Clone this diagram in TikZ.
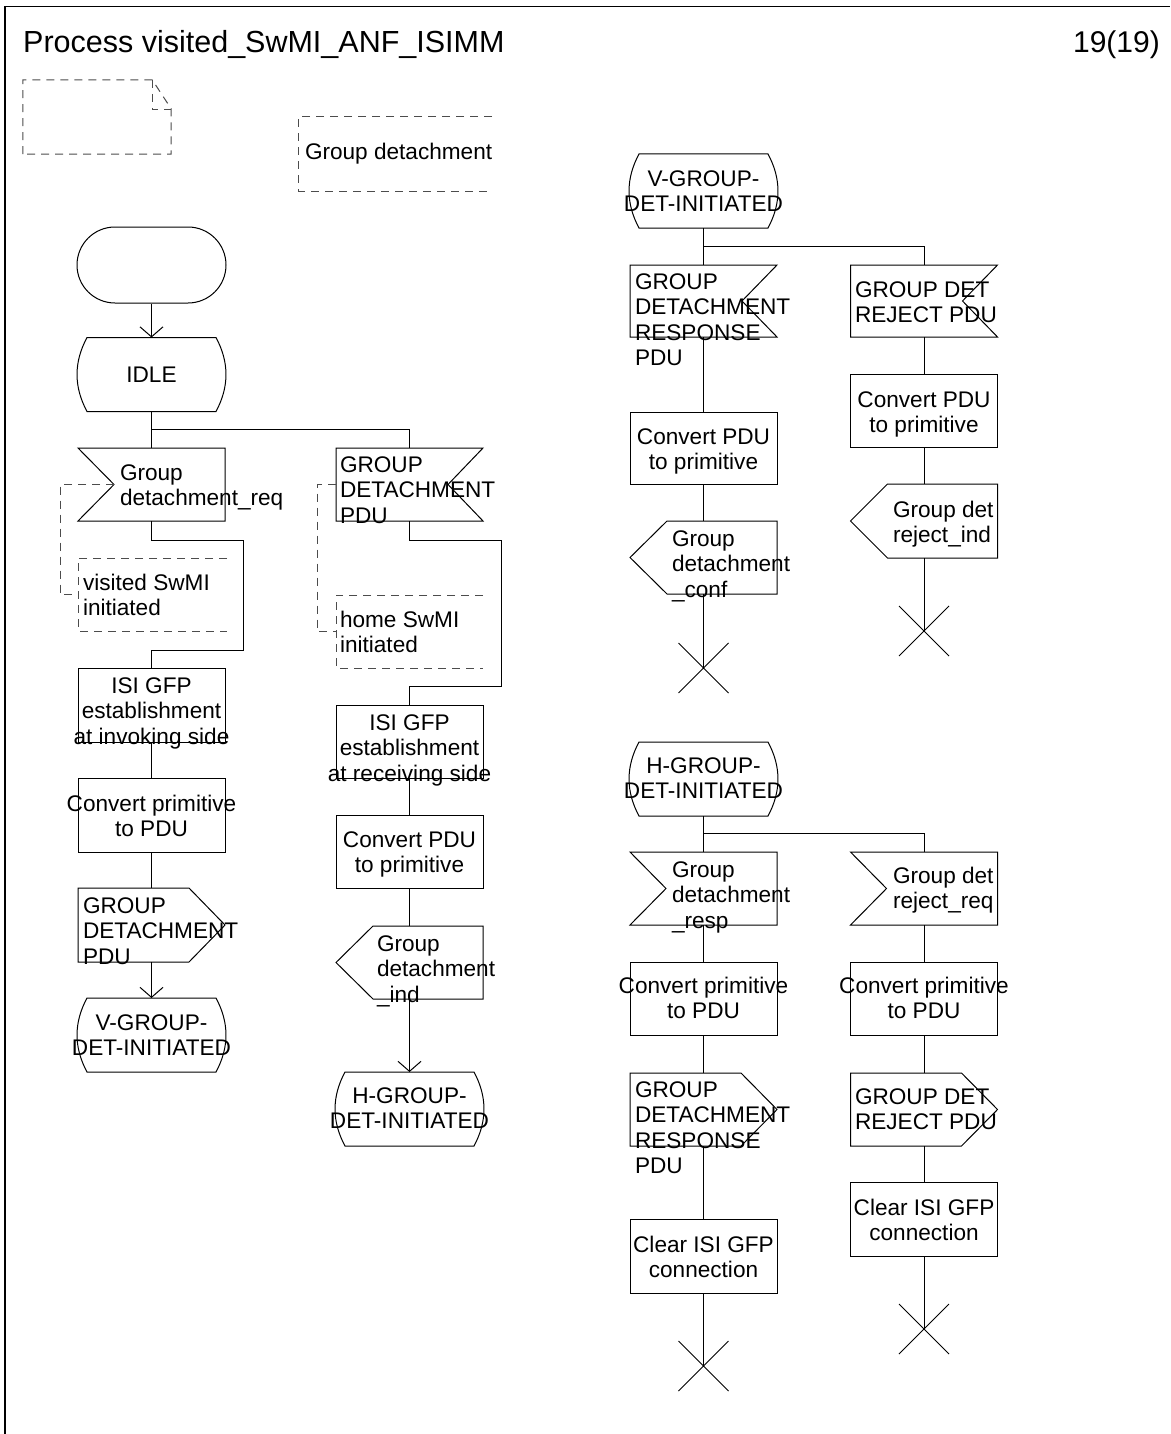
\documentclass[tikz,border=0pt]{standalone}
\usepackage{fontspec}
\setmainfont{Liberation Sans}
\usetikzlibrary{calc,arrows.meta,shapes.misc}

\newcommand\Lt[1]{\vtop{\halign{##\hfil\cr#1\crcr}}}
\newcommand\Ct[1]{\vtop{\halign{\hfil##\hfil\cr#1\crcr}}}
% SDL state outline
\newcommand\SDLstate[1]{\draw[ln] ($(#1.north west)+(10,0)$) -- ($(#1.north east)+(-10,0)$)
  .. controls ($(#1.north east)+(3.3,24.7)$) and ($(#1.south east)+(3.3,-24.7)$) .. ($(#1.south east)+(-10,0)$)
  -- ($(#1.south west)+(10,0)$)
  .. controls ($(#1.south west)+(-3.3,-24.7)$) and ($(#1.north west)+(-3.3,24.7)$) .. cycle;}
% input, notch on the left
\newcommand\SDLinL[1]{\draw[ln] (#1.north west) -- (#1.north east) -- (#1.south east) -- (#1.south west) -- ($(#1.west)+(36,0)$) -- cycle;}
% input, notch on the right
\newcommand\SDLinR[1]{\draw[ln] (#1.north east) -- (#1.north west) -- (#1.south west) -- (#1.south east) -- ($(#1.east)+(-35,0)$) -- cycle;}
% output pointing right
\newcommand\SDLoutR[1]{\draw[ln] (#1.north west) -- ($(#1.north east)+(-36,0)$) -- (#1.east) -- ($(#1.south east)+(-36,0)$) -- (#1.south west) -- cycle;}
% output pointing left
\newcommand\SDLoutL[1]{\draw[ln] (#1.north east) -- ($(#1.north west)+(37,0)$) -- (#1.west) -- ($(#1.south west)+(37,0)$) -- (#1.south east) -- cycle;}
% comment bracket (open to the right)
\newcommand\SDLcmt[1]{\draw[cmt] (#1.north east) -- (#1.north west) -- (#1.south west) -- (#1.south east);}

\begin{document}
\begin{tikzpicture}[x=1pt,y=-1pt,
  ln/.style={line width=1pt,draw=black},
  cmt/.style={line width=1pt,draw=black!70,dash pattern=on 8pt off 6pt},
  arr/.style={-{Straight Barb[length=10pt,width=23pt]}},
  sym/.style={minimum width=147pt,minimum height=73pt,inner sep=0pt,outer sep=0pt},
  stt/.style={minimum width=149pt,minimum height=74pt,inner sep=0pt,outer sep=0pt},
  task/.style={sym,draw,line width=1pt},
  txt/.style={inner sep=0pt,outer sep=0pt,font=\fontsize{22.6}{25.5}\selectfont},
  stopx/.style={draw,line width=1pt,cross out,minimum size=50pt,inner sep=0pt,outer sep=0pt}]
\useasboundingbox (0,0) rectangle (1170,1434);

% frame
\draw[line width=1.5pt] (5,1434) -- (5,6.5) -- (1170,6.5);
\node[anchor=base west,inner sep=0pt,font=\fontsize{30.5}{34}\selectfont] (title) at (23,53) {Process visited\_SwMI\_ANF\_ISIMM};
\node[anchor=base east,inner sep=0pt,font=\fontsize{30}{34}\selectfont] (page) at (1160,53) {19(19)};

% text symbol
\node[minimum width=148pt,minimum height=74pt,inner sep=0pt] (tsym) at (97,117) {};
\draw[cmt] (tsym.south west) -- (tsym.north west) -- ($(tsym.north east)+(-19,0)$) -- ($(tsym.north east)+(0,29)$) -- (tsym.south east) -- cycle;
\draw[cmt] ($(tsym.north east)+(-19,0)$) -- ($(tsym.north east)+(-19,30)$) -- ($(tsym.north east)+(0,30)$);

% Group detachment comment
\node[minimum width=193pt,minimum height=74pt,inner sep=0pt] (cgd) at (395.5,154) {};
\SDLcmt{cgd}
\node[txt,anchor=base west] (tgd) at (305,160) {\Lt{Group detachment}};

% ---------------- left part
\node[ln,draw,rounded corners=38pt,minimum width=149pt,minimum height=76pt,inner sep=0pt] (start) at (151.5,265) {};
\node[stt] (idle) at (151.5,374.5) {};
\SDLstate{idle}
\node[txt,anchor=base] (tidle) at (151.5,382) {\Ct{IDLE}};
\draw[ln,arr] (start.south) -- (idle.north);

\node[sym] (in1) at (151.5,484.5) {};
\SDLinL{in1}
\node[txt,anchor=base west] (tin1) at (120,480) {\Lt{Group\cr detachment\_req}};
\node[sym] (in2) at (409.5,484.5) {};
\SDLinR{in2}
\node[txt,anchor=base west] (tin2) at (340,472) {\Lt{GROUP\cr DETACHMENT\cr PDU}};
\coordinate (br1) at (151.5,429);
\draw[ln] (idle.south) -- (in1.north);
\draw[ln] (br1) -| (in2.north);

% comments
\node[sym,minimum width=149pt] (c1) at (152.5,594.5) {};
\SDLcmt{c1}
\node[txt,anchor=base west] (tc1) at (83,590) {\Lt{visited SwMI\cr initiated}};
\draw[cmt] ($(in1.west)+(36,0)$) -- (60,484.5) |- (c1.west);
\node[sym] (c2) at (409.5,631.5) {};
\SDLcmt{c2}
\node[txt,anchor=base west] (tc2) at (340,627) {\Lt{home SwMI\cr initiated}};
\draw[cmt] (in2.west) -- (317,484.5) |- (c2.west);

% left column
\node[task,minimum height=74pt] (isi1) at (151.5,705) {};
\node[txt,anchor=base] (tisi1) at (151.5,693) {\Ct{ISI GFP\cr establishment\cr at invoking side}};
\draw[ln] (in1.south) -- (151.5,540) -| (243,650) -| (isi1.north);
\node[task,minimum height=74pt] (conv1) at (151.5,815) {};
\node[txt,anchor=base] (tconv1) at (151.5,811) {\Ct{Convert primitive\cr to PDU}};
\draw[ln] (isi1.south) -- (conv1.north);
\node[sym,minimum height=74pt] (out1) at (151.5,925) {};
\SDLoutR{out1}
\node[txt,anchor=base west] (tout1) at (83,913) {\Lt{GROUP\cr DETACHMENT\cr PDU}};
\draw[ln] (conv1.south) -- (out1.north);
\node[stt] (vst1) at (151.5,1035) {};
\SDLstate{vst1}
\node[txt,anchor=base] (tvst1) at (151.5,1030) {\Ct{V-GROUP-\cr DET-INITIATED}};
\draw[ln,arr] (out1.south) -- (vst1.north);

% second column
\node[task] (isi2) at (409.5,741.5) {};
\node[txt,anchor=base] (tisi2) at (409.5,730) {\Ct{ISI GFP\cr establishment\cr at receiving side}};
\draw[ln] (in2.south) -- (409.5,540) -| (501,686) -| (isi2.north);
\node[task] (conv2) at (409.5,851.5) {};
\node[txt,anchor=base] (tconv2) at (409.5,847) {\Ct{Convert PDU\cr to primitive}};
\draw[ln] (isi2.south) -- (conv2.north);
\node[sym] (out2) at (409.5,962.5) {};
\SDLoutL{out2}
\node[txt,anchor=base west] (tout2) at (377,951) {\Lt{Group\cr detachment\cr \_ind}};
\draw[ln] (conv2.south) -- (out2.north);
\node[stt] (hst1) at (409.5,1109) {};
\SDLstate{hst1}
\node[txt,anchor=base] (thst1) at (409.5,1103) {\Ct{H-GROUP-\cr DET-INITIATED}};
\draw[ln,arr] (out2.south) -- (hst1.north);

% ---------------- right part, V-GROUP
\node[stt] (vst2) at (703.5,191) {};
\SDLstate{vst2}
\node[txt,anchor=base] (tvst2) at (703.5,186) {\Ct{V-GROUP-\cr DET-INITIATED}};
\node[sym,minimum height=72pt] (in3) at (703.5,301) {};
\SDLinR{in3}
\node[txt,anchor=base west] (tin3) at (635,289) {\Lt{GROUP\cr DETACHMENT\cr RESPONSE\cr PDU}};
\node[sym,minimum height=72pt] (in4) at (924,301) {};
\SDLinR{in4}
\node[txt,anchor=base west] (tin4) at (855,297) {\Lt{GROUP DET\cr REJECT PDU}};
\coordinate (br2) at (703.5,246);
\draw[ln] (vst2.south) -- (in3.north);
\draw[ln] (br2) -| (in4.north);

\node[task,minimum height=72pt] (conv3) at (703.5,448) {};
\node[txt,anchor=base] (tconv3) at (703.5,444) {\Ct{Convert PDU\cr to primitive}};
\draw[ln] (in3.south) -- (conv3.north);
\node[sym] (out3) at (703.5,557.5) {};
\SDLoutL{out3}
\node[txt,anchor=base west] (tout3) at (672,546) {\Lt{Group\cr detachment\cr \_conf}};
\draw[ln] (conv3.south) -- (out3.north);
\node[stopx] (x3) at (703.5,668) {};
\draw[ln] (out3.south) -- (x3.center);

\node[task] (conv4) at (924,410.5) {};
\node[txt,anchor=base] (tconv4) at (924,407) {\Ct{Convert PDU\cr to primitive}};
\draw[ln] (in4.south) -- (conv4.north);
\node[sym,minimum height=74pt] (out4) at (924,521) {};
\SDLoutL{out4}
\node[txt,anchor=base west] (tout4) at (893,517) {\Lt{Group det\cr reject\_ind}};
\draw[ln] (conv4.south) -- (out4.north);
\node[stopx] (x4) at (924,631) {};
\draw[ln] (out4.south) -- (x4.center);

% ---------------- right part, H-GROUP
\node[stt] (hst2) at (703.5,779) {};
\SDLstate{hst2}
\node[txt,anchor=base] (thst2) at (703.5,773) {\Ct{H-GROUP-\cr DET-INITIATED}};
\node[sym] (in5) at (703.5,888.5) {};
\SDLinL{in5}
\node[txt,anchor=base west] (tin5) at (672,877) {\Lt{Group\cr detachment\cr \_resp}};
\node[sym] (in6) at (924,888.5) {};
\SDLinL{in6}
\node[txt,anchor=base west] (tin6) at (893,883) {\Lt{Group det\cr reject\_req}};
\coordinate (br3) at (703.5,833);
\draw[ln] (hst2.south) -- (in5.north);
\draw[ln] (br3) -| (in6.north);

\node[task] (conv5) at (703.5,998.5) {};
\node[txt,anchor=base] (tconv5) at (703.5,993) {\Ct{Convert primitive\cr to PDU}};
\draw[ln] (in5.south) -- (conv5.north);
\node[sym] (out5) at (703.5,1109.5) {};
\SDLoutR{out5}
\node[txt,anchor=base west] (tout5) at (635,1097) {\Lt{GROUP\cr DETACHMENT\cr RESPONSE\cr PDU}};
\draw[ln] (conv5.south) -- (out5.north);
\node[task,minimum height=74pt] (clr5) at (703.5,1256) {};
\node[txt,anchor=base] (tclr5) at (703.5,1252) {\Ct{Clear ISI GFP\cr connection}};
\draw[ln] (out5.south) -- (clr5.north);
\node[stopx] (x5) at (703.5,1366) {};
\draw[ln] (clr5.south) -- (x5.center);

\node[task] (conv6) at (924,998.5) {};
\node[txt,anchor=base] (tconv6) at (924,993) {\Ct{Convert primitive\cr to PDU}};
\draw[ln] (in6.south) -- (conv6.north);
\node[sym] (out6) at (924,1109.5) {};
\SDLoutR{out6}
\node[txt,anchor=base west] (tout6) at (855,1104) {\Lt{GROUP DET\cr REJECT PDU}};
\draw[ln] (conv6.south) -- (out6.north);
\node[task,minimum height=74pt] (clr6) at (924,1219) {};
\node[txt,anchor=base] (tclr6) at (924,1215) {\Ct{Clear ISI GFP\cr connection}};
\draw[ln] (out6.south) -- (clr6.north);
\node[stopx] (x6) at (924,1329) {};
\draw[ln] (clr6.south) -- (x6.center);
\end{tikzpicture}
\end{document}
